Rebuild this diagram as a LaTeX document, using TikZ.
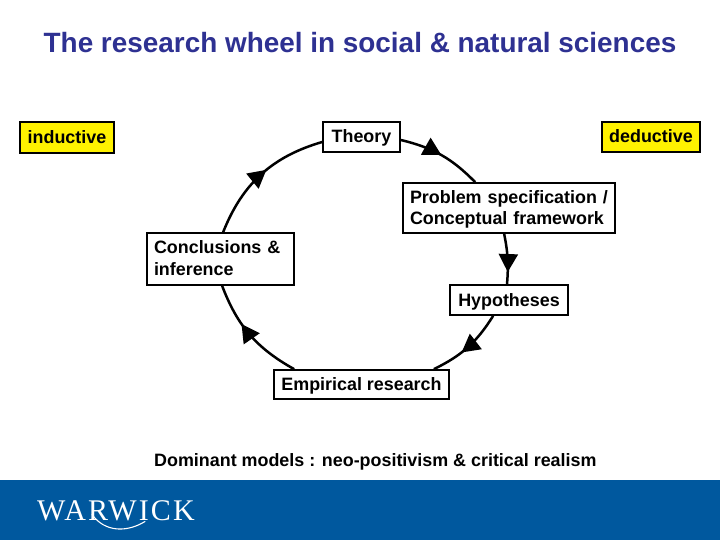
\documentclass[tikz,border=0pt]{standalone}
\usepackage{fontspec}
\setmainfont{Liberation Sans}
\newfontfamily\logofont[LetterSpace=7]{Liberation Serif}
\usetikzlibrary{arrows.meta,decorations.markings,calc}
\definecolor{titleblue}{RGB}{46,49,146}
\definecolor{bandblue}{RGB}{0,88,158}
\tikzset{
  x=1pt,y=-1pt,
  stagebox/.style={draw=black,line width=1.7pt,fill=white,font=\fontsize{17.9}{21.3}\selectfont\bfseries,inner sep=0pt,align=center},
  oneline/.style={text height=12.5pt,text depth=0.5pt},
  flagbox/.style={stagebox,oneline,fill=yellow},
  wheel/.style={line width=2.5pt,draw=black},
  headat/.style={postaction={decorate,decoration={markings,mark=at position #1 with {\arrow{Triangle[length=18pt,width=19pt]}}}}}
}
\begin{document}
\begin{tikzpicture}
\useasboundingbox (0,0) rectangle (720,540);
\fill[white] (0,0) rectangle (720,540);
\fill[bandblue] (0,480) rectangle (720,540);
\node[font=\fontsize{27.9}{32}\selectfont\bfseries,text=titleblue,inner sep=0pt] (title) at (360,43) {The research wheel in social \& natural sciences};
\node[flagbox,minimum width=94pt,minimum height=31pt] (inductive) at (67,137.5) {inductive};
\node[flagbox,minimum width=98pt,minimum height=30pt] (deductive) at (651,137) {deductive};
\node[stagebox,oneline,minimum width=77pt,minimum height=30pt] (theory) at (361.5,137) {Theory};
\node[stagebox,align=left,text width=198pt,minimum height=50pt,inner xsep=7pt,text depth=22.3pt] (problem) at (509,208) {Problem specification /\\Conceptual framework};
\node[stagebox,oneline,minimum width=118pt,minimum height=30pt] (hypo) at (509,300) {Hypotheses};
\node[stagebox,oneline,minimum width=175pt,minimum height=29pt] (empirical) at (361.5,384.5) {Empirical research};
\node[stagebox,align=left,text width=133pt,minimum height=52pt,inner xsep=7pt,text depth=23pt] (concl) at (220.5,259) {Conclusions \&\\inference};
\node[font=\fontsize{17.9}{21}\selectfont\bfseries,anchor=base west,inner sep=0pt] (models) at (154,466) {Dominant models : neo-positivism \& critical realism};
\node[font=\fontsize{30}{30}\logofont,text=white,anchor=base west,inner sep=0pt] (logo) at (37,520.5) {WARWICK};
\draw[white,line width=1.1pt,line cap=round] ($(logo.base west)+(55,-6)$) .. controls ($(logo.base west)+(68,12)$) and ($(logo.base west)+(90,12)$) .. ($(logo.base west)+(108,1)$);
\draw[wheel,headat=0.5] ($(theory.east)+(0,3)$) to[bend left=16] ($(problem.north west)+(73,0)$);
\draw[wheel,headat=0.76] ($(problem.south west)+(102,0)$) to[bend left=8] ($(hypo.north)+(-2,0)$);
\draw[wheel,headat=0.6] ($(hypo.south west)+(44,0)$) to[bend left=16] ($(empirical.north east)+(-16,0)$);
\draw[wheel,headat=0.62] ($(empirical.north west)+(21,0)$) to[bend left=20] ($(concl.south west)+(76,0)$);
\draw[wheel,headat=0.55] ($(concl.north west)+(77,0)$) to[bend left=26] ($(theory.west)+(0,5)$);
\end{tikzpicture}
\end{document}
